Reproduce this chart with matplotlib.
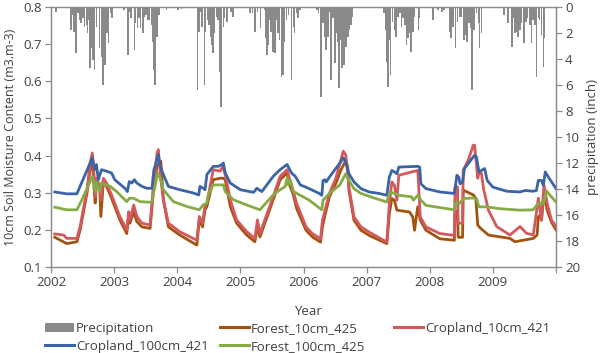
import matplotlib.pyplot as plt
from matplotlib.patches import Patch
from matplotlib.lines import Line2D

# daily precipitation bars (decimal year, inches)
rain_year = [
    2002.08, 2002.32, 2002.35, 2002.36, 2002.40, 2002.43, 2002.45, 2002.48, 2002.51, 2002.53,
    2002.56, 2002.58, 2002.60, 2002.62, 2002.65, 2002.67, 2002.69, 2002.72, 2002.77, 2002.80,
    2002.82, 2002.84, 2002.86, 2002.89, 2002.91, 2002.94, 2002.97,
    2003.16, 2003.22, 2003.25, 2003.27, 2003.32, 2003.34, 2003.37, 2003.39, 2003.42, 2003.46,
    2003.48, 2003.51, 2003.54, 2003.56, 2003.59, 2003.62, 2003.63, 2003.65, 2003.68, 2003.71,
    2003.83, 2004.01, 2004.07,
    2004.32, 2004.34, 2004.37, 2004.39, 2004.43, 2004.45, 2004.48, 2004.50, 2004.53, 2004.55,
    2004.57, 2004.59, 2004.62, 2004.65, 2004.67, 2004.69, 2004.73, 2004.75, 2004.79, 2004.85,
    2004.88,
    2005.15, 2005.19, 2005.23, 2005.27, 2005.32, 2005.38, 2005.40, 2005.42, 2005.44, 2005.47,
    2005.49, 2005.52, 2005.55, 2005.57, 2005.60, 2005.62, 2005.65, 2005.68, 2005.70, 2005.73,
    2005.76, 2005.81, 2005.84, 2005.86, 2005.89, 2005.91, 2005.94,
    2006.21, 2006.24, 2006.28, 2006.31, 2006.34, 2006.36, 2006.39, 2006.42, 2006.44, 2006.47,
    2006.50, 2006.52, 2006.55, 2006.56, 2006.59, 2006.61, 2006.64, 2006.67, 2006.70, 2006.72,
    2006.75, 2006.77,
    2007.28, 2007.30, 2007.32, 2007.34, 2007.37, 2007.38, 2007.41, 2007.44, 2007.47, 2007.50,
    2007.53, 2007.55, 2007.58, 2007.61, 2007.63, 2007.66, 2007.68, 2007.70, 2007.73, 2007.76,
    2007.82, 2007.83,
    2008.05, 2008.13, 2008.19, 2008.23, 2008.32, 2008.34, 2008.37, 2008.41, 2008.44, 2008.48,
    2008.50, 2008.54, 2008.57, 2008.59, 2008.62, 2008.65, 2008.67, 2008.70, 2008.74, 2008.77,
    2008.79, 2008.82,
    2009.18, 2009.24, 2009.30, 2009.32, 2009.35, 2009.38, 2009.40, 2009.43, 2009.45, 2009.49,
    2009.52, 2009.55, 2009.59, 2009.61, 2009.64, 2009.67, 2009.69, 2009.72, 2009.74, 2009.77,
    2009.80, 2009.81,
]
rain_in = [
    0.36, 1.77, 0.62, 1.90, 3.56, 0.49, 1.00, 1.26, 0.87, 1.51,
    1.38, 2.03, 1.00, 4.72, 3.18, 4.08, 4.85, 1.51, 3.18, 3.82,
    6.00, 0.74, 4.46, 2.03, 2.79, 0.49, 0.87,
    0.23, 3.69, 0.36, 0.87, 3.31, 1.26, 1.64, 0.87, 1.64, 2.03,
    0.74, 0.62, 1.00, 1.00, 1.38, 2.67, 4.85, 6.00, 2.28, 0.62,
    0.23, 0.23, 0.18,
    6.38, 1.90, 0.36, 1.51, 6.00, 1.90, 1.00, 1.38, 2.28, 2.92,
    3.56, 2.03, 0.74, 1.00, 4.97, 7.67, 1.51, 0.87, 1.13, 0.36,
    0.74,
    0.49, 0.49, 1.90, 0.36, 1.64, 0.23, 2.41, 3.69, 2.92, 1.00,
    1.90, 3.44, 3.56, 1.00, 2.03, 2.54, 5.36, 5.23, 2.67, 1.00,
    0.62, 5.62, 1.51, 2.03, 0.49, 0.87, 0.23,
    0.23, 0.49, 6.90, 1.26, 2.28, 3.31, 2.28, 0.36, 5.62, 0.87,
    4.33, 2.03, 2.67, 6.26, 2.54, 4.72, 4.46, 3.05, 2.28, 1.77,
    1.38, 0.74,
    0.49, 1.77, 4.21, 6.13, 2.54, 5.23, 1.13, 1.77, 2.28, 0.74,
    0.49, 1.51, 0.87, 1.38, 2.92, 2.41, 2.03, 3.44, 1.90, 0.74,
    1.77, 0.87,
    1.00, 0.23, 0.36, 0.23, 1.90, 2.41, 1.51, 3.18, 1.13, 0.74,
    0.74, 2.54, 2.15, 2.67, 1.26, 1.64, 6.38, 1.77, 0.49, 1.26,
    3.18, 2.03,
    0.62, 1.26, 3.05, 0.87, 2.03, 1.90, 2.28, 1.77, 1.26, 2.79,
    1.13, 0.87, 1.38, 2.79, 1.00, 1.38, 5.36, 0.87, 1.00, 2.15,
    4.59, 2.41,
]

# Cropland_100cm_421
crop100_year = [
    2002.06, 2002.25, 2002.41, 2002.46, 2002.62, 2002.655, 2002.69, 2002.72, 2002.75, 2002.80,
    2002.88, 2002.96, 2003.01, 2003.17, 2003.21, 2003.24, 2003.28, 2003.32, 2003.36, 2003.44,
    2003.52, 2003.60, 2003.63, 2003.68, 2003.70, 2003.73, 2003.77, 2003.86, 2004.04, 2004.26,
    2004.34, 2004.36, 2004.41, 2004.44, 2004.47, 2004.57, 2004.65, 2004.71, 2004.73, 2004.76,
    2004.84, 2005.00, 2005.21, 2005.26, 2005.34, 2005.52, 2005.63, 2005.74, 2005.81, 2005.87,
    2005.95, 2006.09, 2006.25, 2006.29, 2006.31, 2006.34, 2006.36, 2006.41, 2006.51, 2006.59,
    2006.63, 2006.67, 2006.72, 2006.80, 2006.91, 2007.04, 2007.20, 2007.32, 2007.36, 2007.40,
    2007.44, 2007.48, 2007.51, 2007.81, 2007.84, 2007.86, 2007.94, 2008.16, 2008.39, 2008.43,
    2008.46, 2008.48, 2008.52, 2008.55, 2008.63, 2008.71, 2008.74, 2008.78, 2008.82, 2008.87,
    2008.91, 2009.00, 2009.22, 2009.43, 2009.51, 2009.64, 2009.69, 2009.72, 2009.77, 2009.80,
    2009.83, 2009.88, 2010.00,
]
crop100 = [
    0.302, 0.297, 0.297, 0.317, 0.380, 0.394, 0.362, 0.376, 0.335, 0.362,
    0.358, 0.353, 0.335, 0.312, 0.303, 0.330, 0.326, 0.335, 0.326, 0.317,
    0.312, 0.312, 0.362, 0.389, 0.403, 0.371, 0.353, 0.317, 0.308, 0.299,
    0.294, 0.317, 0.312, 0.308, 0.349, 0.371, 0.371, 0.376, 0.380, 0.353,
    0.326, 0.308, 0.301, 0.312, 0.303, 0.344, 0.362, 0.376, 0.353, 0.344,
    0.321, 0.311, 0.298, 0.293, 0.333, 0.335, 0.329, 0.342, 0.365, 0.383,
    0.394, 0.383, 0.351, 0.329, 0.311, 0.302, 0.298, 0.293, 0.342, 0.360,
    0.356, 0.351, 0.369, 0.371, 0.369, 0.324, 0.311, 0.302, 0.298, 0.347,
    0.342, 0.324, 0.329, 0.365, 0.383, 0.401, 0.396, 0.356, 0.360, 0.365,
    0.333, 0.315, 0.304, 0.302, 0.306, 0.304, 0.306, 0.333, 0.333, 0.320,
    0.356, 0.342, 0.311,
]

# Forest_100cm_425
forest100_year = [
    2002.06, 2002.25, 2002.41, 2002.49, 2002.62, 2002.655, 2002.70, 2002.72, 2002.77, 2002.80,
    2002.94, 2003.04, 2003.20, 2003.24, 2003.31, 2003.41, 2003.60, 2003.63, 2003.69, 2003.73,
    2003.78, 2003.94, 2004.15, 2004.35, 2004.41, 2004.47, 2004.49, 2004.57, 2004.73, 2004.76,
    2004.89, 2005.10, 2005.31, 2005.52, 2005.63, 2005.71, 2005.74, 2005.76, 2005.79, 2005.84,
    2006.09, 2006.29, 2006.31, 2006.41, 2006.57, 2006.67, 2006.72, 2006.80, 2006.91, 2007.15,
    2007.32, 2007.37, 2007.44, 2007.52, 2007.71, 2007.74, 2007.81, 2007.86, 2007.94, 2008.16,
    2008.39, 2008.42, 2008.47, 2008.53, 2008.69, 2008.74, 2008.78, 2008.90, 2009.11, 2009.43,
    2009.64, 2009.72, 2009.80, 2009.85, 2009.88, 2010.00,
]
forest100 = [
    0.261, 0.254, 0.254, 0.281, 0.330, 0.344, 0.303, 0.330, 0.303, 0.326,
    0.317, 0.303, 0.276, 0.285, 0.285, 0.276, 0.274, 0.303, 0.353, 0.339,
    0.308, 0.276, 0.263, 0.254, 0.267, 0.272, 0.294, 0.321, 0.321, 0.303,
    0.281, 0.267, 0.254, 0.294, 0.308, 0.317, 0.339, 0.321, 0.335, 0.303,
    0.280, 0.254, 0.280, 0.298, 0.320, 0.351, 0.333, 0.311, 0.298, 0.284,
    0.275, 0.302, 0.298, 0.293, 0.289, 0.280, 0.293, 0.280, 0.266, 0.260,
    0.254, 0.275, 0.271, 0.284, 0.286, 0.284, 0.262, 0.262, 0.257, 0.253,
    0.254, 0.272, 0.271, 0.305, 0.298, 0.275,
]

# Cropland_10cm_421
crop10_year = [
    2002.06, 2002.20, 2002.25, 2002.41, 2002.46, 2002.57, 2002.62, 2002.655, 2002.68, 2002.70,
    2002.72, 2002.77, 2002.79, 2002.83, 2002.88, 2002.96, 2003.09, 2003.20, 2003.23, 2003.25,
    2003.31, 2003.36, 2003.44, 2003.57, 2003.62, 2003.68, 2003.70, 2003.74, 2003.78, 2003.86,
    2004.04, 2004.31, 2004.35, 2004.40, 2004.44, 2004.47, 2004.57, 2004.68, 2004.72, 2004.76,
    2004.84, 2004.94, 2005.10, 2005.23, 2005.27, 2005.31, 2005.52, 2005.63, 2005.74, 2005.79,
    2005.84, 2005.89, 2006.04, 2006.14, 2006.27, 2006.30, 2006.34, 2006.41, 2006.51, 2006.59,
    2006.63, 2006.67, 2006.72, 2006.80, 2006.91, 2007.04, 2007.32, 2007.36, 2007.40, 2007.44,
    2007.48, 2007.51, 2007.81, 2007.85, 2007.94, 2008.16, 2008.39, 2008.40, 2008.44, 2008.45,
    2008.52, 2008.53, 2008.61, 2008.69, 2008.71, 2008.76, 2008.78, 2008.82, 2008.85, 2008.93,
    2009.06, 2009.27, 2009.43, 2009.53, 2009.64, 2009.72, 2009.77, 2009.81, 2009.86, 2009.93,
    2010.00,
]
crop10 = [
    0.189, 0.186, 0.177, 0.177, 0.208, 0.308, 0.380, 0.407, 0.353, 0.290,
    0.339, 0.317, 0.281, 0.339, 0.326, 0.294, 0.236, 0.200, 0.249, 0.227,
    0.267, 0.236, 0.218, 0.213, 0.317, 0.407, 0.416, 0.335, 0.281, 0.218,
    0.195, 0.172, 0.236, 0.218, 0.267, 0.272, 0.362, 0.358, 0.371, 0.349,
    0.281, 0.227, 0.195, 0.177, 0.227, 0.190, 0.290, 0.344, 0.362, 0.330,
    0.303, 0.272, 0.208, 0.190, 0.176, 0.226, 0.253, 0.298, 0.338, 0.387,
    0.412, 0.401, 0.315, 0.235, 0.208, 0.194, 0.167, 0.271, 0.329, 0.320,
    0.280, 0.347, 0.360, 0.235, 0.208, 0.190, 0.185, 0.316, 0.316, 0.218,
    0.218, 0.361, 0.388, 0.428, 0.428, 0.339, 0.352, 0.352, 0.312, 0.253,
    0.209, 0.186, 0.209, 0.191, 0.186, 0.285, 0.226, 0.321, 0.271, 0.226,
    0.209,
]

# Forest_10cm_425
forest10_year = [
    2002.06, 2002.25, 2002.41, 2002.46, 2002.57, 2002.62, 2002.655, 2002.68, 2002.70, 2002.72,
    2002.77, 2002.79, 2002.83, 2002.88, 2002.96, 2003.09, 2003.20, 2003.23, 2003.25, 2003.31,
    2003.36, 2003.44, 2003.57, 2003.62, 2003.68, 2003.74, 2003.78, 2003.86, 2004.04, 2004.31,
    2004.35, 2004.40, 2004.44, 2004.47, 2004.57, 2004.68, 2004.73, 2004.76, 2004.84, 2004.94,
    2005.10, 2005.23, 2005.27, 2005.31, 2005.52, 2005.63, 2005.74, 2005.79, 2005.84, 2005.89,
    2006.04, 2006.14, 2006.27, 2006.30, 2006.34, 2006.41, 2006.51, 2006.59, 2006.67, 2006.70,
    2006.72, 2006.80, 2006.91, 2007.04, 2007.32, 2007.36, 2007.40, 2007.44, 2007.48, 2007.68,
    2007.73, 2007.76, 2007.78, 2007.81, 2007.85, 2007.94, 2008.16, 2008.39, 2008.40, 2008.44,
    2008.45, 2008.52, 2008.53, 2008.69, 2008.73, 2008.76, 2008.80, 2008.93, 2009.27, 2009.35,
    2009.64, 2009.70, 2009.72, 2009.75, 2009.77, 2009.81, 2009.86, 2009.93, 2010.00,
]
forest10 = [
    0.180, 0.163, 0.168, 0.199, 0.299, 0.362, 0.394, 0.317, 0.272, 0.326,
    0.317, 0.236, 0.330, 0.317, 0.285, 0.227, 0.190, 0.236, 0.218, 0.249,
    0.222, 0.208, 0.204, 0.299, 0.371, 0.385, 0.281, 0.208, 0.186, 0.159,
    0.227, 0.208, 0.254, 0.263, 0.335, 0.339, 0.339, 0.335, 0.263, 0.218,
    0.186, 0.168, 0.208, 0.181, 0.281, 0.335, 0.353, 0.317, 0.294, 0.258,
    0.199, 0.181, 0.167, 0.208, 0.239, 0.289, 0.324, 0.360, 0.387, 0.369,
    0.306, 0.226, 0.199, 0.185, 0.163, 0.244, 0.284, 0.280, 0.253, 0.248,
    0.235, 0.199, 0.226, 0.262, 0.226, 0.199, 0.176, 0.172, 0.250, 0.250,
    0.180, 0.180, 0.307, 0.294, 0.285, 0.213, 0.205, 0.186, 0.177, 0.168,
    0.177, 0.186, 0.235, 0.240, 0.226, 0.298, 0.253, 0.220, 0.200,
]

year_ticks = [2002, 2003, 2004, 2005, 2006, 2007, 2008, 2009, 2010]
year_labels = ['2002', '2003', '2004', '2005', '2006', '2007', '2008', '2009', '']

plt.rcParams['font.family'] = ['Open Sans', 'DejaVu Sans']
plt.rcParams['font.size'] = 9.5
txt = '#404040'
axc = '#8c8c8c'

fig = plt.figure(figsize=(6.03, 3.53), dpi=100)
ax = fig.add_axes([51 / 603, 1 - 267 / 353, 505 / 603, 260 / 353])
ax2 = ax.twinx()

ax2.bar(rain_year, rain_in, width=0.026, color='#8a8a8a', align='center', linewidth=0)
ax2.set_ylim(20, 0)
ax2.set_yticks(range(0, 21, 2))

c_brown = '#a5520f'
c_red = '#d25a5c'
c_blue = '#3b64a6'
c_green = '#86ab46'
lw = 2.0
ax.plot(forest10_year, forest10, color=c_brown, lw=lw)
ax.plot(crop10_year, crop10, color=c_red, lw=lw)
ax.plot(crop100_year, crop100, color=c_blue, lw=lw)
ax.plot(forest100_year, forest100, color=c_green, lw=lw)

ax.set_zorder(ax2.get_zorder() + 1)
ax.patch.set_visible(False)

ax.set_xlim(2002, 2010)
ax.set_ylim(0.1, 0.8)
ax.set_xticks(year_ticks)
ax.set_xticklabels(year_labels)
ax.set_yticks([0.1, 0.2, 0.3, 0.4, 0.5, 0.6, 0.7, 0.8])
ax.set_yticklabels(['0.1', '0.2', '0.3', '0.4', '0.5', '0.6', '0.7', '0.8'])

for a in (ax, ax2):
    for s in a.spines.values():
        s.set_color(axc)
        s.set_linewidth(0.9)
    a.tick_params(colors=axc, labelcolor=txt, length=4, width=0.9, direction='out', pad=2.5)

ax.set_xlabel('Year', color=txt)
ax.xaxis.set_label_coords((308 - 51) / 505, -0.148)
ax.set_ylabel('10cm Soil Moisture Content (m3.m-3)', color=txt, fontsize=9)
ax.yaxis.set_label_coords(-0.067, 0.5)
ax2.set_ylabel('precipitation (inch)', color=txt)
ax2.yaxis.set_label_coords(1.06, 0.5)

def add_col(handles, labels, x):
    fig.legend(handles, labels, loc='upper left', bbox_to_anchor=(x / 603, 1 - 322 / 353),
               frameon=False, handlelength=2.2, handletextpad=0.15, labelspacing=0.38,
               borderaxespad=0, borderpad=0, labelcolor=txt)

h_rain = Patch(facecolor='#8a8a8a', edgecolor='none')
h_f10 = Line2D([], [], color=c_brown, lw=2.2)
h_c10 = Line2D([], [], color=c_red, lw=2.2)
h_c100 = Line2D([], [], color=c_blue, lw=2.2)
h_f100 = Line2D([], [], color=c_green, lw=2.2)
add_col([h_rain, h_c100], ['Precipitation', 'Cropland_100cm_421'], 45)
add_col([h_f10, h_f100], ['Forest_10cm_425', 'Forest_100cm_425'], 220)
add_col([h_c10], ['Cropland_10cm_421'], 394)

fig.savefig('out.png', dpi=100)
